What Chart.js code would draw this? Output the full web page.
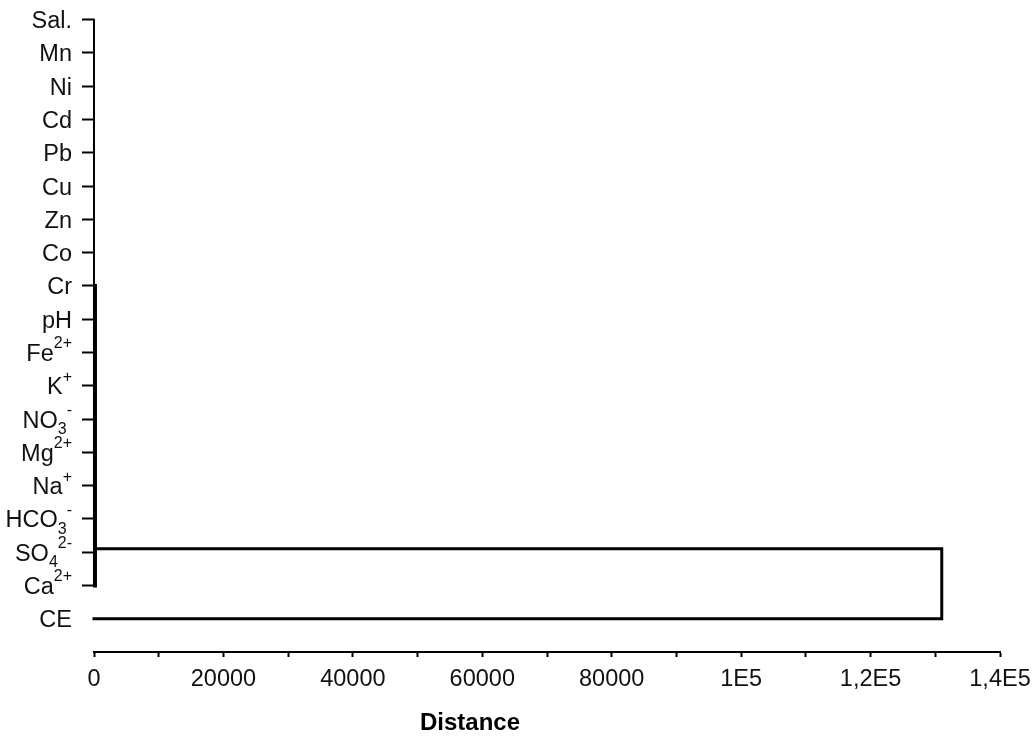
<!DOCTYPE html>
<html>
<head>
<meta charset="utf-8">
<script src="https://cdn.jsdelivr.net/npm/chart.js@4/dist/chart.umd.min.js"></script>
<style>
  html, body { margin: 0; padding: 0; background: #fff; }
  #wrap { width: 1032px; height: 738px; position: relative; }
</style>
</head>
<body>
<div id="wrap"><canvas id="c"></canvas></div>
<script>
// ---- data ----
const labelBase = ['Sal.', 'Mn', 'Ni', 'Cd', 'Pb', 'Cu', 'Zn', 'Co', 'Cr', 'pH', 'Fe', 'K', 'NO', 'Mg', 'Na', 'HCO', 'SO', 'Ca', 'CE'];
const labelSub  = ['', '', '', '', '', '', '', '', '', '', '', '', '3', '', '', '3', '4', '', ''];
const labelSup  = ['', '', '', '', '', '', '', '', '', '', '2+', '+', '-', '2+', '+', '-', '2-', '2+', ''];
const xTickValues = [0, 20000, 40000, 60000, 80000, 100000, 120000, 140000];
const xTickLabels = ['0', '20000', '40000', '60000', '80000', '1E5', '1,2E5', '1,4E5'];
// dendrogram merge distances
const mergeAll = 0;          // Sal. ... Ca2+ joined at ~0
const mergeCrCa = 150;       // Cr ... Ca2+ joined at a tiny distance
const mergeCE = 131000;      // CE joins the rest
const mainClusterRow = 15.9; // row position of the main cluster's link
const ceRow = 18;

const FONT = '"Liberation Sans", Arial, sans-serif';

const seg = (pts, w) => ({
  data: pts, showLine: true, borderColor: '#000', borderWidth: w,
  pointRadius: 0, fill: false, clip: false, tension: 0,
  borderCapStyle: 'square', borderJoinStyle: 'miter'
});

const datasets = [
  seg([{x: mergeAll, y: 0}, {x: mergeAll, y: 17}], 2),
  seg([{x: mergeCrCa, y: 8}, {x: mergeCrCa, y: 17}], 4),
  seg([{x: mergeCrCa, y: mainClusterRow}, {x: mergeCE, y: mainClusterRow},
       {x: mergeCE, y: ceRow}, {x: mergeAll, y: ceRow}], 3)
];

const labelPlugin = {
  id: 'rowLabels',
  afterDraw(chart) {
    const ctx = chart.ctx;
    const ys = chart.scales.y;
    const xs = chart.scales.x;
    ctx.save();
    ctx.fillStyle = '#111';
    ctx.textBaseline = 'alphabetic';
    ctx.textAlign = 'left';
    const right = xs.left - 22;
    for (let i = 0; i < labelBase.length; i++) {
      const y = ys.getPixelForValue(i);
      ctx.font = '23.5px ' + FONT;
      const wb = ctx.measureText(labelBase[i]).width;
      ctx.font = '16px ' + FONT;
      const wsub = labelSub[i] ? ctx.measureText(labelSub[i]).width : 0;
      const wsup = labelSup[i] ? ctx.measureText(labelSup[i]).width : 0;
      const total = wb + wsub + wsup;
      let x = right - total;
      ctx.font = '23.5px ' + FONT;
      ctx.fillText(labelBase[i], x, y + 8.5);
      x += wb;
      ctx.font = '16px ' + FONT;
      if (labelSub[i]) { ctx.fillText(labelSub[i], x, y + 15); x += wsub; }
      if (labelSup[i]) { ctx.fillText(labelSup[i], x, y - 4); }
    }
    // axis title
    ctx.font = 'bold 24px ' + FONT;
    ctx.textAlign = 'center';
    ctx.fillStyle = '#000';
    ctx.fillText('Distance', xs.left + (xs.right - xs.left) * 0.415, 730);
    ctx.restore();
  }
};

new Chart(document.getElementById('c'), {
  type: 'scatter',
  data: { datasets },
  options: {
    responsive: true,
    maintainAspectRatio: false,
    animation: false,
    layout: { padding: { top: 3, right: 32, left: 0, bottom: 0 } },
    plugins: { legend: { display: false }, tooltip: { enabled: false } },
    scales: {
      x: {
        type: 'linear', min: 0, max: 140000,
        afterBuildTicks(scale) {
          const t = [];
          for (let v = 0; v <= 140000; v += 10000) t.push({ value: v });
          scale.ticks = t;
        },
        afterFit(scale) {
          scale.height = 86;
          scale.paddingLeft = 0; scale.paddingRight = 0;
        },
        border: { display: true, color: '#000', width: 2 },
        grid: { drawOnChartArea: false, drawTicks: true, tickLength: 5, tickColor: '#000', tickWidth: 2 },
        ticks: {
          autoSkip: false, maxRotation: 0, padding: 8, color: '#111',
          font: { family: FONT, size: 23.5 },
          callback(v) {
            const k = xTickValues.indexOf(v);
            return k >= 0 ? xTickLabels[k] : '';
          }
        }
      },
      y: {
        type: 'linear', reverse: true, min: -0.5, max: 19,
        afterBuildTicks(scale) {
          const t = [];
          for (let i = 0; i < labelBase.length - 1; i++) t.push({ value: i });
          scale.ticks = t;
        },
        afterFit(scale) {
          scale.width = 94;
          scale.paddingTop = 0; scale.paddingBottom = 0;
        },
        border: { display: false },
        grid: { drawOnChartArea: false, drawTicks: true, tickLength: 12, tickColor: '#000', tickWidth: 2 },
        ticks: { display: true, callback: () => '', padding: 0, font: { size: 1 } }
      }
    }
  },
  plugins: [labelPlugin]
});
</script>
</body>
</html>
